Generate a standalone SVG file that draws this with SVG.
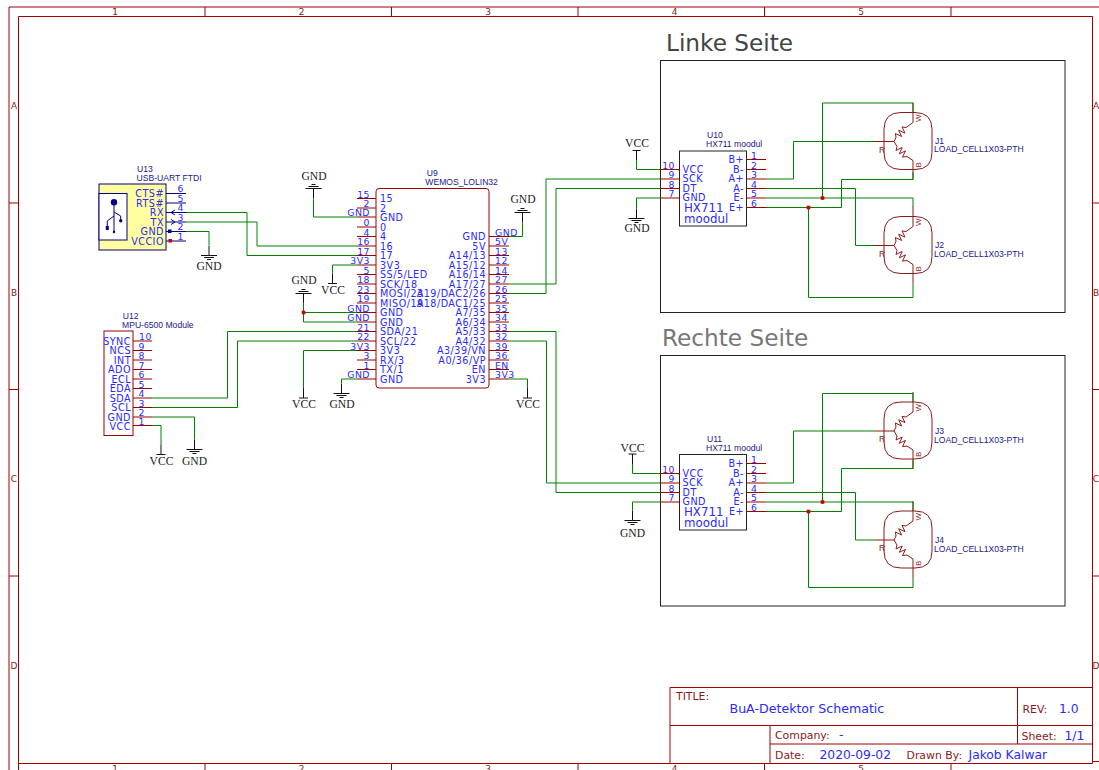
<svg xmlns="http://www.w3.org/2000/svg" width="1099" height="770" viewBox="0 0 1099 770">
<style>
text{font-family:"DejaVu Sans",Verdana,sans-serif}
.fr{fill:none;stroke:#a00000;stroke-width:1}
.pin{fill:none;stroke:#990000;stroke-width:1}
.w{fill:none;stroke:#008000;stroke-width:1}
.k{fill:none;stroke:#111;stroke-width:1}
.l{font-size:9.6px;letter-spacing:.5px;fill:#2a2aff}
.n{font-size:9.3px;letter-spacing:.5px;fill:#2a2aff}
.e{text-anchor:end}
.nm{font-family:"Liberation Sans",Arial,sans-serif;font-size:8.6px;fill:#20208a}
.sup{font-family:"Liberation Serif","Times New Roman",serif;font-size:11.6px;fill:#222;text-anchor:middle}
.big{font-size:11.8px;fill:#2a2aff}
.dr{font-size:10.9px;fill:#8b1a1a}
.bl{font-size:12.3px;fill:#2a2aff}
.fl{font-size:9px;fill:#8b1a1a;text-anchor:middle}
.j{fill:#d00000}
</style>
<defs>
<g id="gu"><path class="k" d="M-8,0H8M-5,-2H5M-2,-4H2M0,0V10"/></g>
<g id="gd"><path class="k" d="M-8,0H8M-5,2H5M-2,4H2M0,0V-10"/></g>
<g id="vd"><path class="k" d="M-4.5,0H4.5M0,0V-10"/></g>
<g id="vu"><path class="k" d="M-4,0H4M0,0V10"/></g>
<g id="lc">
<path fill="none" stroke="#8b1a1a" d="M7,-29H21Q38,-29 38,-12V11Q38,28 21,28H7Q-10,28 -10,11V-12Q-10,-29 7,-29Z"/>
<path fill="none" stroke="#8b1a1a" d="M-19,0H0L2,-4L1.4,-8L7.6,-5L4.7,-11.3L11,-8.4L8,-14.6L12,-14L19,-19V-39M0,0L3,5L2,9L8.2,6L5.3,12.3L11.5,9.4L8.5,15.6L13,15L19,19V38"/>
<text x="-15" y="11" font-size="8.5" fill="#8b1a1a" style="font-family:'Liberation Sans',sans-serif">R</text>
<text transform="translate(26.5,-19.5) rotate(-90)" font-size="8" fill="#8b1a1a" style="font-family:'Liberation Sans',sans-serif">W</text>
<text transform="translate(26.5,26) rotate(-90)" font-size="8" fill="#8b1a1a" style="font-family:'Liberation Sans',sans-serif">B</text>
</g>
</defs>
<rect width="1099" height="770" fill="#fff"/>

<g id="frame">
<path class="fr" d="M1099,7H9V770M18.5,770V16.5H1092.5V763.5H18.5M205,7V16.5M391.5,7V16.5M578,7V16.5M764.5,7V16.5M951,7V16.5M205,763.5V770M391.5,763.5V770M578,763.5V770M764.5,763.5V770M951,763.5V770M9,203H18.5M9,389.5H18.5M9,576H18.5M1092.5,203H1099M1092.5,389.5H1099M1092.5,576H1099M1092.5,761.5H1099"/>
<text class="fl" x="115" y="15">1</text><text class="fl" x="301.5" y="15">2</text><text class="fl" x="488" y="15">3</text><text class="fl" x="674.5" y="15">4</text><text class="fl" x="861" y="15">5</text>
<text class="fl" x="115" y="772">1</text><text class="fl" x="301.5" y="772">2</text><text class="fl" x="488" y="772">3</text><text class="fl" x="674.5" y="772">4</text><text class="fl" x="861" y="772">5</text>
<text class="fl" x="14" y="109">A</text><text class="fl" x="14" y="296">B</text><text class="fl" x="14" y="482">C</text><text class="fl" x="14" y="669">D</text>
<text class="fl" x="1096" y="109">A</text><text class="fl" x="1096" y="296">B</text><text class="fl" x="1096" y="482">C</text><text class="fl" x="1096" y="669">D</text>
</g>

<g id="title-block">
<path class="fr" d="M670,763.5V687.5H1092.5M670,725.5H1092.5M1017.5,687.5V744M770,725.5V763.5M770,744H1092.5"/>
<text class="dr" x="676" y="700">TITLE:</text>
<text x="729.5" y="712.5" font-size="12.6" fill="#2a2aff">BuA-Detektor Schematic</text>
<text class="dr" x="1022.5" y="712.5">REV:</text><text class="bl" x="1059" y="712.5">1.0</text>
<text class="dr" x="775" y="738.5">Company:</text><text class="bl" x="839" y="738.5">-</text>
<text class="dr" x="1021.5" y="739.5">Sheet:</text><text class="bl" x="1064.5" y="739.5">1/1</text>
<text class="dr" x="775" y="759">Date:</text><text class="bl" x="819.5" y="759">2020-09-02</text>
<text class="dr" x="906.5" y="759">Drawn By:</text><text class="bl" x="968.5" y="759">Jakob Kalwar</text>
</g>

<g id="sheets">
<rect x="660.5" y="60.5" width="404.5" height="252" fill="none" stroke="#222"/>
<rect x="660.5" y="355.5" width="404.5" height="250.5" fill="none" stroke="#222"/>
<text x="666" y="51" font-size="23.2" fill="#444">Linke Seite</text>
<text x="662" y="346" font-size="23.2" fill="#777">Rechte Seite</text>
</g>

<g id="U13">
<rect x="99" y="184" width="67" height="66" fill="#ffffa0" stroke="#000080"/>
<rect x="99" y="193.5" width="28" height="46.5" fill="#fff" stroke="#000080"/>
<circle cx="114" cy="202.3" r="3.2" fill="#000080"/>
<path fill="none" stroke="#000080" d="M114,204V232M114,216L107.3,221V228M114,212L120.7,216V220"/>
<circle cx="120.7" cy="220.7" r="1.7" fill="#000080"/><rect x="105.8" y="226" width="3" height="4" fill="#000080"/><circle cx="114" cy="232" r="1.2" fill="#000080"/>
<path fill="none" stroke="#000080" d="M166,193.5H186M166,203H186M166,212.5H186M166,222H186M166,231.5H186M166,241H186M175,210L171,212.5L175,215M171,219.5L175,222L171,224.5"/>
<rect x="168" y="229.5" width="3.5" height="3.5" fill="#000080"/><rect x="168.5" y="239" width="3.5" height="3.5" fill="#d00000"/>
<text class="nm" x="137" y="172">U13</text><text class="nm" x="136.5" y="180.5">USB-UART FTDI</text>
<text class="l e" x="164" y="197">CTS#</text><text class="l e" x="164" y="206.5">RTS#</text><text class="l e" x="164" y="216">RX</text><text class="l e" x="164" y="225.5">TX</text><text class="l e" x="164" y="235">GND</text><text class="l e" x="164" y="244.5">VCCIO</text>
<text class="n" x="177.5" y="192">6</text><text class="n" x="177.5" y="201.5">5</text><text class="n" x="177.5" y="211">4</text><text class="n" x="177.5" y="220.5">3</text><text class="n" x="177.5" y="230">2</text><text class="n" x="177.5" y="239.5">1</text>
</g>

<g id="U12">
<rect x="104" y="331" width="29" height="104.5" fill="none" stroke="#990000"/>
<path class="pin" d="M133,341H152M133,350.5H152M133,360H152M133,369.5H152M133,379H152M133,388.5H152M133,398H152M133,407.5H152M133,417H152M133,425.5H152"/>
<text class="nm" x="122.7" y="318.5">U12</text><text class="nm" x="122" y="327.5">MPU-6500 Module</text>
<text class="l e" x="131" y="344.5">SYNC</text><text class="l e" x="131" y="354">NCS</text><text class="l e" x="131" y="363.5">INT</text><text class="l e" x="131" y="372.5">ADO</text><text class="l e" x="131" y="382.5">ECL</text><text class="l e" x="131" y="392">EDA</text><text class="l e" x="131" y="401.5">SDA</text><text class="l e" x="131" y="411">SCL</text><text class="l e" x="131" y="420.5">GND</text><text class="l e" x="131" y="429.5">VCC</text>
<text class="n" x="139" y="340">10</text><text class="n" x="138.5" y="349.5">9</text><text class="n" x="138.5" y="359">8</text><text class="n" x="138.5" y="368.5">7</text><text class="n" x="138.5" y="378">6</text><text class="n" x="138.5" y="387.5">5</text><text class="n" x="138.5" y="397">4</text><text class="n" x="138.5" y="406.5">3</text><text class="n" x="138.5" y="416">2</text><text class="n" x="138.5" y="424.5">1</text>
</g>

<g id="U9">
<rect x="376" y="188.5" width="113" height="199.5" rx="3" fill="none" stroke="#990000"/>
<path class="pin" d="M357,198.5H376M357,208H376M357,217H376M357,227H376M357,236.5H376M357,246H376M357,255.5H376M357,265H376M357,274.5H376M357,284H376M357,293.5H376M357,303H376M357,312.5H376M357,322H376M357,331.5H376M357,341H376M357,350.5H376M357,360H376M357,369.5H376M357,379H376"/>
<path class="pin" d="M489,236.5H509M489,246H509M489,255.5H509M489,265H509M489,274.5H509M489,284H509M489,293.5H509M489,303H509M489,312.5H509M489,322H509M489,331.5H509M489,341H509M489,350.5H509M489,360H509M489,369.5H509M489,379H509"/>
<text class="nm" x="426.7" y="176">U9</text><text class="nm" x="425.3" y="185">WEMOS_LOLIN32</text>
<text class="l" x="380" y="202">15</text><text class="l" x="380" y="211.5">2</text><text class="l" x="380" y="221">GND</text><text class="l" x="380" y="230.5">0</text><text class="l" x="380" y="240">4</text><text class="l" x="380" y="249.5">16</text><text class="l" x="380" y="259">17</text><text class="l" x="380" y="268.5">3V3</text><text class="l" x="380" y="278">SS/5/LED</text><text class="l" x="380" y="287.5">SCK/18</text><text class="l" x="380" y="297">MOSI/23</text><text class="l" x="380" y="306.5">MISO/19</text><text class="l" x="380" y="316">GND</text><text class="l" x="380" y="325.5">GND</text><text class="l" x="380" y="335">SDA/21</text><text class="l" x="380" y="344.5">SCL/22</text><text class="l" x="380" y="354">3V3</text><text class="l" x="380" y="363.5">RX/3</text><text class="l" x="380" y="373">TX/1</text><text class="l" x="380" y="382.5">GND</text>
<text class="n e" x="370" y="197.5">15</text><text class="n e" x="370" y="207">2</text><text class="n e" x="370" y="216">GND</text><text class="n e" x="370" y="226">0</text><text class="n e" x="370" y="235.5">4</text><text class="n e" x="370" y="245">16</text><text class="n e" x="370" y="254.5">17</text><text class="n e" x="370" y="264">3V3</text><text class="n e" x="370" y="273.5">5</text><text class="n e" x="370" y="283">18</text><text class="n e" x="370" y="292.5">23</text><text class="n e" x="370" y="302">19</text><text class="n e" x="370" y="311.5">GND</text><text class="n e" x="370" y="321">GND</text><text class="n e" x="370" y="330.5">21</text><text class="n e" x="370" y="340">22</text><text class="n e" x="370" y="349.5">3V3</text><text class="n e" x="370" y="359">3</text><text class="n e" x="370" y="368.5">1</text><text class="n e" x="370" y="378">GND</text>
<text class="l e" x="486" y="240">GND</text><text class="l e" x="486" y="249.5">5V</text><text class="l e" x="486" y="259">A14/13</text><text class="l e" x="486" y="268.5">A15/12</text><text class="l e" x="486" y="278">A16/14</text><text class="l e" x="486" y="287.5">A17/27</text><text class="l e" x="486" y="297">A19/DAC2/26</text><text class="l e" x="486" y="306.5">A18/DAC1/25</text><text class="l e" x="486" y="316">A7/35</text><text class="l e" x="486" y="325.5">A6/34</text><text class="l e" x="486" y="335">A5/33</text><text class="l e" x="486" y="344.5">A4/32</text><text class="l e" x="486" y="354">A3/39/VN</text><text class="l e" x="486" y="363.5">A0/36/VP</text><text class="l e" x="486" y="373">EN</text><text class="l e" x="486" y="382.5">3V3</text>
<text class="n" x="495" y="235.5">GND</text><text class="n" x="495" y="245">5V</text><text class="n" x="495" y="254.5">13</text><text class="n" x="495" y="264">12</text><text class="n" x="495" y="273.5">14</text><text class="n" x="495" y="283">27</text><text class="n" x="495" y="292.5">26</text><text class="n" x="495" y="302">25</text><text class="n" x="495" y="311.5">35</text><text class="n" x="495" y="321">34</text><text class="n" x="495" y="330.5">33</text><text class="n" x="495" y="340">32</text><text class="n" x="495" y="349.5">39</text><text class="n" x="495" y="359">36</text><text class="n" x="495" y="368.5">EN</text><text class="n" x="495" y="378">3V3</text>
</g>

<g id="U10">
<rect x="679.5" y="151" width="67" height="75" fill="none" stroke="#222"/>
<path class="pin" d="M660,169.5H679.5M660,179H679.5M660,188.5H679.5M660,198H679.5M746.5,159.5H766M746.5,169.5H766M746.5,179H766M746.5,188.5H766M746.5,198H766M746.5,207.5H766"/>
<text class="nm" x="707" y="138">U10</text><text class="nm" x="706" y="146.5">HX711 moodul</text>
<text class="l" x="682.5" y="172.5">VCC</text><text class="l" x="682.5" y="182">SCK</text><text class="l" x="682.5" y="191.5">DT</text><text class="l" x="682.5" y="201">GND</text>
<text class="l e" x="744" y="163">B+</text><text class="l e" x="744" y="172.5">B-</text><text class="l e" x="744" y="182">A+</text><text class="l e" x="744" y="191.5">A-</text><text class="l e" x="744" y="201">E-</text><text class="l e" x="744" y="210.5">E+</text>
<text class="big" x="684" y="212">HX711</text><text class="big" x="684" y="223">moodul</text>
<text class="n e" x="675" y="168.5">10</text><text class="n e" x="675" y="178">9</text><text class="n e" x="675" y="187.5">8</text><text class="n e" x="675" y="197">7</text>
<text class="n" x="751" y="158.5">1</text><text class="n" x="751" y="168.5">2</text><text class="n" x="751" y="178">3</text><text class="n" x="751" y="187.5">4</text><text class="n" x="751" y="197">5</text><text class="n" x="751" y="206.5">6</text>
</g>

<g id="U11">
<rect x="679.5" y="454.5" width="67" height="75.5" fill="none" stroke="#222"/>
<path class="pin" d="M660,473.5H679.5M660,483H679.5M660,492.5H679.5M660,502H679.5M746.5,463.5H766M746.5,473.5H766M746.5,483H766M746.5,492.5H766M746.5,502H766M746.5,511.5H766"/>
<text class="nm" x="707" y="442">U11</text><text class="nm" x="706" y="450.5">HX711 moodul</text>
<text class="l" x="682.5" y="476.5">VCC</text><text class="l" x="682.5" y="486">SCK</text><text class="l" x="682.5" y="495.5">DT</text><text class="l" x="682.5" y="505">GND</text>
<text class="l e" x="744" y="467">B+</text><text class="l e" x="744" y="476.5">B-</text><text class="l e" x="744" y="486">A+</text><text class="l e" x="744" y="495.5">A-</text><text class="l e" x="744" y="505">E-</text><text class="l e" x="744" y="514.5">E+</text>
<text class="big" x="684" y="516">HX711</text><text class="big" x="684" y="527">moodul</text>
<text class="n e" x="675" y="472.5">10</text><text class="n e" x="675" y="482">9</text><text class="n e" x="675" y="491.5">8</text><text class="n e" x="675" y="501">7</text>
<text class="n" x="751" y="462.5">1</text><text class="n" x="751" y="472.5">2</text><text class="n" x="751" y="482">3</text><text class="n" x="751" y="491.5">4</text><text class="n" x="751" y="501">5</text><text class="n" x="751" y="510.5">6</text>
</g>

<g id="J1"><use href="#lc" x="894" y="141.5"/><text class="nm" x="935" y="143.5">J1</text><text class="nm" x="934" y="152">LOAD_CELL1X03-PTH</text></g>
<g id="J2"><use href="#lc" x="894" y="245.5"/><text class="nm" x="935" y="247.5">J2</text><text class="nm" x="934" y="256.5">LOAD_CELL1X03-PTH</text></g>
<g id="J3"><use href="#lc" x="894" y="431"/><text class="nm" x="935" y="433.5">J3</text><text class="nm" x="934" y="442.5">LOAD_CELL1X03-PTH</text></g>
<g id="J4"><use href="#lc" x="894" y="540"/><text class="nm" x="935" y="543">J4</text><text class="nm" x="934" y="552">LOAD_CELL1X03-PTH</text></g>

<g id="gnd1"><use href="#gu" x="313.5" y="188.5"/><text class="sup" x="314" y="180">GND</text></g>
<g id="gnd2"><use href="#gu" x="522.5" y="212.5"/><text class="sup" x="523" y="202.5">GND</text></g>
<g id="gnd3"><use href="#gu" x="303.5" y="293.5"/><text class="sup" x="304" y="284">GND</text></g>
<g id="gnd4"><use href="#gd" x="209" y="255.5"/><text class="sup" x="209" y="269.5">GND</text></g>
<g id="gnd5"><use href="#gd" x="194.5" y="449.5"/><text class="sup" x="194.5" y="465">GND</text></g>
<g id="gnd6"><use href="#gd" x="341.5" y="393.5"/><text class="sup" x="342" y="407.5">GND</text></g>
<g id="gnd7"><use href="#gd" x="636.5" y="218.5"/><text class="sup" x="637" y="232">GND</text></g>
<g id="gnd8"><use href="#gd" x="632.5" y="520.5"/><text class="sup" x="632.5" y="537">GND</text></g>
<g id="vcc1"><use href="#vd" x="332.5" y="283.5"/><text class="sup" x="333" y="293.5">VCC</text></g>
<g id="vcc2"><use href="#vd" x="303.5" y="398"/><text class="sup" x="304" y="407.5">VCC</text></g>
<g id="vcc3"><use href="#vd" x="527.5" y="398"/><text class="sup" x="528" y="407.5">VCC</text></g>
<g id="vcc4"><use href="#vd" x="161" y="454.5"/><text class="sup" x="161.5" y="465">VCC</text></g>
<g id="vcc5"><use href="#vu" x="636.5" y="150.5"/><text class="sup" x="637" y="147">VCC</text></g>
<g id="vcc6"><use href="#vu" x="632.5" y="454"/><text class="sup" x="632.5" y="451.5">VCC</text></g>

<g id="connectors">
<path class="w" d="M186,212.5H247V255.5H357"/>
<path class="w" d="M186,222H257V246H357"/>
<path class="w" d="M186,231.5H209V245"/>
<path class="w" d="M152,398H227.5V331.5H357"/>
<path class="w" d="M152,407.5H237.5V341H357"/>
<path class="w" d="M152,417H194.5V439.5"/>
<path class="w" d="M152,425.5H161V444.5"/>
<path class="w" d="M313.5,198.5V217H357"/>
<path class="w" d="M357,265H332.5V273.5"/>
<path class="w" d="M357,312.5H303.5V322H357M303.5,303.5V312.5"/>
<path class="w" d="M357,350.5H303.5V388"/>
<path class="w" d="M357,379H341.5V383.5"/>
<path class="w" d="M509,236.5H522.5V222.5"/>
<path class="w" d="M509,379H527.5V388"/>
<path class="w" d="M509,293.5H546V179H660"/>
<path class="w" d="M509,284H556V188.5H660"/>
<path class="w" d="M509,331.5H556V492.5H660"/>
<path class="w" d="M509,341H546.5V483H660"/>
<path class="w" d="M636.5,160.5V169.5H660"/>
<path class="w" d="M660,198H636.5V208.5"/>
<path class="w" d="M632.5,464V473.5H660"/>
<path class="w" d="M660,502H632.5V510.5"/>
<path class="w" d="M766,179H793.5V141.5H875"/>
<path class="w" d="M766,188.5H855.5V245.5H875"/>
<path class="w" d="M766,198H913V207"/>
<path class="w" d="M766,207.5H841.5V179.5H913V172"/>
<path class="w" d="M822.5,198V103H913V112"/>
<path class="w" d="M808.5,207.5V297.5H913V283.5"/>
<path class="w" d="M766,483H793.5V431H875"/>
<path class="w" d="M766,492.5H855.5V540H875"/>
<path class="w" d="M766,502H913V511"/>
<path class="w" d="M766,511.5H841.5V468.5H913V460"/>
<path class="w" d="M822.5,502V393.5H913V402"/>
<path class="w" d="M808.5,511.5V587.5H913V578"/>
<rect class="j" x="301.7" y="310.7" width="3.6" height="3.6"/>
<rect class="j" x="820.7" y="196.2" width="3.6" height="3.6"/>
<rect class="j" x="806.7" y="205.7" width="3.6" height="3.6"/>
<rect class="j" x="820.7" y="500.2" width="3.6" height="3.6"/>
<rect class="j" x="806.7" y="509.7" width="3.6" height="3.6"/>
</g>
</svg>
